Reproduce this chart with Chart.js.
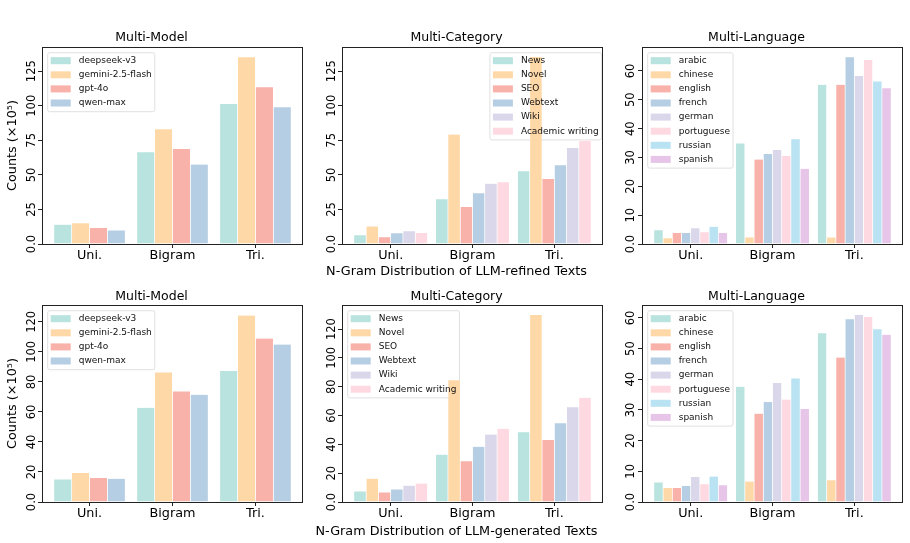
<!DOCTYPE html>
<html>
<head>
<meta charset="utf-8">
<script src="https://cdn.jsdelivr.net/npm/chart.js@4/dist/chart.umd.min.js"></script>
<style>
  body { margin: 0; background: #fff; width: 910px; height: 543px; position: relative; overflow: hidden; }
  canvas { position: absolute; }
</style>
</head>
<body>
<canvas id="c0"></canvas>
<canvas id="c1"></canvas>
<canvas id="c2"></canvas>
<canvas id="c3"></canvas>
<canvas id="c4"></canvas>
<canvas id="c5"></canvas>
<script>
// n-gram groups on the x axis
const ngramLabels = ["Uni.", "Bigram", "Tri."];

// series names
const models = ["deepseek-v3", "gemini-2.5-flash", "gpt-4o", "qwen-max"];
const categories = ["News", "Novel", "SEO", "Webtext", "Wiki", "Academic writing"];
const languages = ["arabic", "chinese", "english", "french", "german", "portuguese", "russian", "spanish"];

// LLM-refined texts (x10^5), one row per series: [Uni, Bigram, Tri]
const refinedModel = [
  [14.2, 66.6, 101.6],
  [15.2, 83.3, 135.4],
  [11.8, 69.0, 113.7],
  [10.1, 57.7, 99.2]
];
const refinedCategory = [
  [6.5, 32.6, 52.8],
  [13.0, 79.4, 135.6],
  [5.1, 27.0, 47.3],
  [8.0, 36.9, 57.2],
  [9.4, 43.9, 69.7],
  [8.2, 44.9, 75.0]
];
const refinedLanguage = [
  [4.9, 35.0, 55.3],
  [2.1, 2.4, 2.4],
  [3.9, 29.4, 55.3],
  [3.9, 31.3, 64.9],
  [5.6, 32.7, 58.4],
  [4.2, 30.6, 63.9],
  [6.1, 36.4, 56.5],
  [3.9, 26.2, 54.1]
];

// LLM-generated texts (x10^5)
const generatedModel = [
  [15.3, 63.0, 87.4],
  [19.5, 86.5, 124.4],
  [16.2, 73.9, 109.1],
  [15.7, 71.6, 105.1]
];
const generatedCategory = [
  [7.6, 33.1, 48.6],
  [16.4, 84.8, 130.0],
  [6.9, 28.5, 43.3],
  [9.0, 38.5, 54.9],
  [11.6, 47.0, 66.0],
  [13.0, 51.0, 72.5]
];
const generatedLanguage = [
  [6.5, 37.7, 55.1],
  [4.7, 6.8, 7.2],
  [4.7, 28.9, 47.2],
  [5.3, 32.7, 59.7],
  [8.3, 38.9, 61.1],
  [5.9, 33.5, 60.4],
  [8.4, 40.4, 56.4],
  [5.6, 30.4, 54.6]
];

// y axis limits and tick steps, per panel
const yMaxes = [142.5, 142.5, 68.3, 131.2, 136.7, 64.2];
const ySteps = [25, 25, 10, 20, 20, 10];

// pastel colours
const palette = ["#b9e3de", "#ffd8a8", "#f9b2a9", "#b5cee3", "#dad7ea", "#ffd9e1", "#b9e2f2", "#e7c5e9"];

Chart.defaults.font.family = "'DejaVu Sans', sans-serif";
Chart.defaults.color = "#000";

/* -------------------------------
   PLUGINS: axes frame + boxed legend
--------------------------------*/
const framePlugin = {
  id: "frame",
  afterDraw(chart) {
    const a = chart.chartArea, ctx = chart.ctx;
    ctx.save();
    ctx.strokeStyle = "#222";
    ctx.lineWidth = 1;
    ctx.strokeRect(Math.round(a.left) + 0.5, Math.round(a.top) + 0.5,
      Math.round(a.right - a.left) - 1, Math.round(a.bottom - a.top));
    ctx.restore();
  }
};

function legendBox(chart, opts) {
  const ctx = chart.ctx, a = chart.chartArea;
  const sets = chart.data.datasets;
  ctx.save();
  ctx.font = "9px 'DejaVu Sans'";
  let maxW = 0;
  sets.forEach(d => { maxW = Math.max(maxW, ctx.measureText(d.label).width); });
  ctx.restore();
  const w = 31 + maxW + 3;
  const h = 8 + (sets.length - 1) * 14.1 + 8.7;
  const left = opts.side === "right" ? a.right - 1.3 - w : a.left + 5.7;
  const top = a.top + 5.7;
  return { left, top, w, h };
}

const legendPlugin = {
  id: "boxLegend",
  beforeDatasetsDraw(chart, args, opts) {
    const b = legendBox(chart, opts), ctx = chart.ctx;
    ctx.save();
    ctx.fillStyle = "#fff";
    ctx.strokeStyle = "#e0e0e0";
    ctx.lineWidth = 1;
    ctx.beginPath();
    ctx.roundRect(b.left, b.top, b.w, b.h, 2);
    ctx.fill();
    ctx.stroke();
    ctx.restore();
  },
  afterDatasetsDraw(chart, args, opts) {
    const b = legendBox(chart, opts), ctx = chart.ctx;
    ctx.save();
    ctx.font = "9px 'DejaVu Sans'";
    ctx.textBaseline = "middle";
    chart.data.datasets.forEach((d, i) => {
      const y = b.top + 8 + i * 14.1;
      ctx.fillStyle = d.backgroundColor;
      ctx.fillRect(b.left + 3, y - 3.5, 20, 7);
      ctx.fillStyle = "#111";
      ctx.fillText(d.label, b.left + 31, y);
    });
    ctx.restore();
  }
};

/* -------------------------------
   PANELS
--------------------------------*/
const panels = [
  { title: "Multi-Model", names: models, values: refinedModel, group: 0.86, yTitle: true, legend: "left" },
  { title: "Multi-Category", names: categories, values: refinedCategory, group: 0.9, legend: "right",
    xTitle: "N-Gram Distribution of LLM-refined Texts" },
  { title: "Multi-Language", names: languages, values: refinedLanguage, group: 0.9, legend: "left" },
  { title: "Multi-Model", names: models, values: generatedModel, group: 0.86, yTitle: true, legend: "left" },
  { title: "Multi-Category", names: categories, values: generatedCategory, group: 0.9, legend: "left",
    xTitle: "N-Gram Distribution of LLM-generated Texts" },
  { title: "Multi-Language", names: languages, values: generatedLanguage, group: 0.9, legend: "left" }
];

// canvas boxes: x, y, w, h, y-axis width, right padding, space under plot, tick pad
const boxes = [
  { x: 0,   y: 25,  w: 310, h: 255, axisW: 42, padR: 7,  under: 36, tickPad: -4.5, row: 0 },
  { x: 310, y: 25,  w: 325, h: 255, axisW: 32, padR: 32, under: 36, tickPad: -4.5, row: 0 },
  { x: 610, y: 25,  w: 300, h: 255, axisW: 32, padR: 7,  under: 36, tickPad: -2.6, row: 0 },
  { x: 0,   y: 283, w: 310, h: 260, axisW: 42, padR: 7,  under: 41, tickPad: -4.5, row: 1 },
  { x: 310, y: 283, w: 325, h: 260, axisW: 32, padR: 32, under: 41, tickPad: -4.5, row: 1 },
  { x: 610, y: 283, w: 300, h: 260, axisW: 32, padR: 7,  under: 41, tickPad: -2.6, row: 1 }
];

function drawPanel(k) {
  const p = panels[k], box = boxes[k];
  const canvas = document.getElementById("c" + k);
  canvas.width = box.w;
  canvas.height = box.h;
  canvas.style.left = box.x + "px";
  canvas.style.top = box.y + "px";

  const lo = -p.group / 2, hi = ngramLabels.length - 1 + p.group / 2;
  const margin = 0.05 * (hi - lo);
  const subPad = box.row === 0 ? 0.5 : 3.5;
  const xAxisH = box.under - (p.xTitle ? 15.36 + subPad : 0);

  new Chart(canvas, {
    type: "bar",
    data: {
      datasets: p.names.map((name, i) => ({
        label: name,
        data: p.values[i].map((v, j) => ({ x: j, y: v })),
        backgroundColor: palette[i],
        borderColor: "#fff",
        borderWidth: 0.35
      }))
    },
    options: {
      responsive: false,
      animation: false,
      layout: { padding: { top: 0, left: 0, bottom: 0, right: box.padR } },
      datasets: { bar: { categoryPercentage: p.group, barPercentage: 1 } },
      scales: {
        x: {
          type: "linear",
          offset: false,
          min: lo - margin,
          max: hi + margin,
          afterBuildTicks: s => { s.ticks = ngramLabels.map((_, i) => ({ value: i })); },
          afterFit: s => { s.height = xAxisH; },
          border: { display: false },
          grid: { offset: false, drawOnChartArea: false, tickLength: 4, color: "#222" },
          ticks: {
            font: { size: 12.8 }, padding: 0, maxRotation: 0, autoSkip: false,
            callback: v => ngramLabels[v]
          }
        },
        y: {
          min: 0,
          max: yMaxes[k],
          afterFit: s => { s.width = box.axisW; },
          border: { display: false },
          grid: { drawOnChartArea: false, tickLength: 4, color: "#222" },
          ticks: {
            stepSize: ySteps[k], includeBounds: false, autoSkip: false,
            minRotation: 90, maxRotation: 90, crossAlign: "center",
            padding: box.tickPad, font: { size: 11.5 },
            callback: v => (v === 0 ? "0.0" : v)
          },
          title: {
            display: !!p.yTitle, text: "Counts (×10⁵)",
            font: { size: 12.8 }, padding: { top: 4.9, bottom: 0 }
          }
        }
      },
      plugins: {
        legend: { display: false },
        tooltip: { enabled: false },
        title: {
          display: true, text: p.title, color: "#000",
          font: { size: 12.5, weight: "normal" },
          padding: box.row === 0 ? { top: 5, bottom: 2 } : { top: 6, bottom: 1 }
        },
        subtitle: {
          display: !!p.xTitle, text: p.xTitle || "", position: "bottom", color: "#000",
          font: { size: 12.8 }, padding: { top: 0, bottom: subPad }
        },
        boxLegend: { side: p.legend }
      }
    },
    plugins: [framePlugin, legendPlugin]
  });
}

panels.forEach((_, k) => drawPanel(k));
</script>
</body>
</html>
